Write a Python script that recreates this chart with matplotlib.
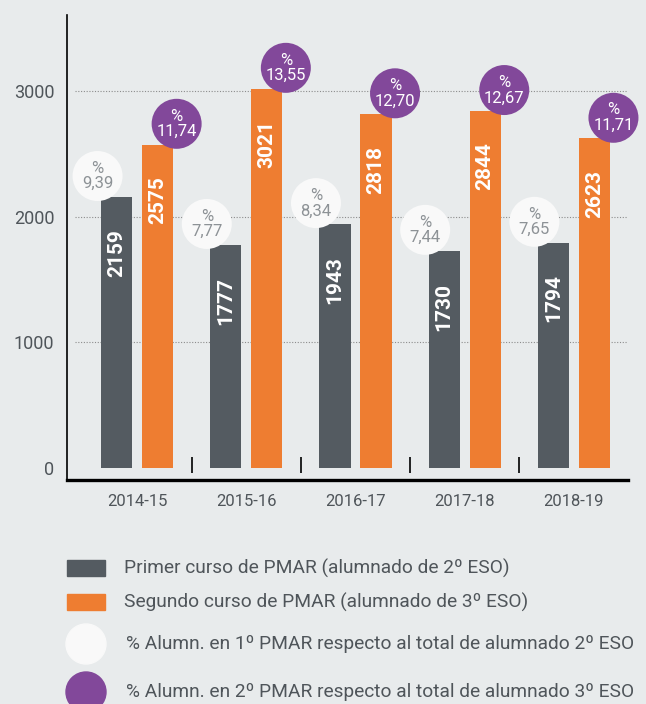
import matplotlib.pyplot as plt
from matplotlib.patches import Rectangle, Circle

# Datos
cursos = ['2014-15', '2015-16', '2016-17', '2017-18', '2018-19']
primer_pmar = [2159, 1777, 1943, 1730, 1794]
segundo_pmar = [2575, 3021, 2818, 2844, 2623]
pct_primer = [9.39, 7.77, 8.34, 7.44, 7.65]
pct_segundo = [11.74, 13.55, 12.70, 12.67, 11.71]
yticks = [0, 1000, 2000, 3000]

legend_labels = [
    'Primer curso de PMAR (alumnado de 2º ESO)',
    'Segundo curso de PMAR (alumnado de 3º ESO)',
    '% Alumn. en 1º PMAR respecto al total de alumnado 2º ESO',
    '% Alumn. en 2º PMAR respecto al total de alumnado 3º ESO',
]

bg = '#e8ebec'
gris = '#545b61'
naranja = '#ee7d31'
morado = '#82489a'
blanco = '#f9f9f9'
texto = '#4f555a'

plt.rcParams['font.family'] = ['Roboto', 'DejaVu Sans']

fig = plt.figure(figsize=(6.46, 7.04), dpi=100, facecolor=bg)
ax = fig.add_axes([0.1037, 0.3182, 0.8684, 0.6605])
ax.set_facecolor(bg)

x = list(range(len(cursos)))
w = 0.285
off = 0.188
x1 = [i - off for i in x]
x2 = [i + off for i in x]

# lineas de referencia punteadas
ax.hlines([1000, 2000, 3000], -0.57, 4.495, colors='#8c8c8c', linewidth=0.8,
          linestyles=(0, (1, 1.5)), zorder=1)

ax.bar(x1, primer_pmar, width=w, color=gris, zorder=2)
ax.bar(x2, segundo_pmar, width=w, color=naranja, zorder=2)

# etiquetas dentro de las barras
for xi, v in zip(x1, primer_pmar):
    ax.annotate(str(v), (xi, v), xytext=(0, -23), textcoords='offset points',
                rotation=90, ha='center', va='top', color='white',
                fontsize=15, fontweight='bold', zorder=5)
for xi, v in zip(x2, segundo_pmar):
    ax.annotate(str(v), (xi, v), xytext=(0, -23), textcoords='offset points',
                rotation=90, ha='center', va='top', color='white',
                fontsize=15, fontweight='bold', zorder=5)

# circulos de porcentaje
cx1 = [xi - 0.174 for xi in x1]
cx2 = [xi + 0.174 for xi in x2]
cy1 = [v + 165 for v in primer_pmar]
cy2 = [v + 165 for v in segundo_pmar]
ax.scatter(cx1, cy1, s=36 ** 2, color=blanco, edgecolors='none', zorder=3, clip_on=False)
ax.scatter(cx2, cy2, s=36 ** 2, color=morado, edgecolors='none', zorder=3, clip_on=False)
for cx, cy, p in zip(cx1, cy1, pct_primer):
    ax.text(cx, cy, '%\n' + f'{p:.2f}'.replace('.', ','), ha='center', va='center',
            fontsize=12, color='#8d9296', linespacing=1.05, zorder=4)
for cx, cy, p in zip(cx2, cy2, pct_segundo):
    ax.text(cx, cy, '%\n' + f'{p:.2f}'.replace('.', ','), ha='center', va='center',
            fontsize=12, color='white', linespacing=1.05, zorder=4)

# separadores entre cursos
ax.vlines([0.5, 1.5, 2.5, 3.5], -40, 85, colors='black', linewidth=1.2, zorder=2)

ax.set_xlim(-0.642, 4.495)
ax.set_ylim(-98, 3607)
ax.set_xticks(x)
ax.set_xticklabels(cursos)
ax.set_yticks(yticks)
ax.set_yticklabels([str(t) for t in yticks])
ax.tick_params(axis='y', length=0, pad=9, labelsize=13, labelcolor=texto)
ax.tick_params(axis='x', length=0, pad=10, labelsize=12, labelcolor=texto)

for s in ['top', 'right']:
    ax.spines[s].set_visible(False)
ax.spines['left'].set_linewidth(1.2)
ax.spines['bottom'].set_linewidth(2.4)

# leyenda dibujada a mano (coordenadas en pulgadas)
t = fig.dpi_scale_trans
H = 7.04
fig.add_artist(Rectangle((0.67, H - 5.76), 0.38, 0.16, transform=t, color=gris))
fig.add_artist(Rectangle((0.67, H - 6.10), 0.38, 0.16, transform=t, color=naranja))
fig.add_artist(Circle((0.86, H - 6.44), 0.20, transform=t, color=blanco))
fig.add_artist(Circle((0.86, H - 6.92), 0.20, transform=t, color=morado))
ly = [5.68, 6.02, 6.44, 6.92]
lx = [1.24, 1.24, 1.26, 1.26]
for xx, yy, lab in zip(lx, ly, legend_labels):
    fig.text(xx, H - yy, lab, transform=t, ha='left', va='center',
             fontsize=13.8, color=texto)

fig.savefig('out.png', dpi=100, facecolor=bg)
